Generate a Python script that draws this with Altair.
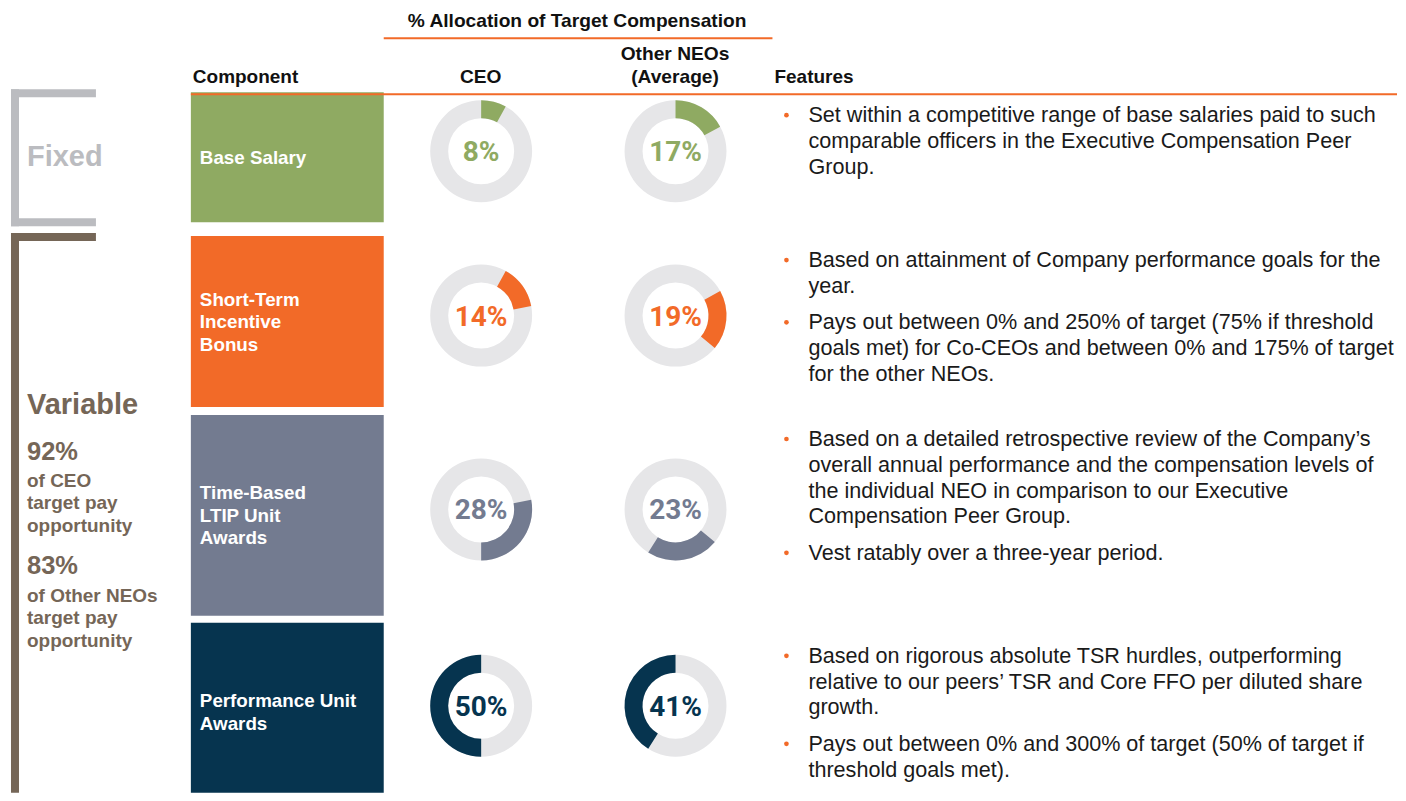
import altair as alt
import pandas as pd

# ---------------- data ----------------
components = ["Base Salary", "Short-Term Incentive Bonus",
              "Time-Based LTIP Unit Awards", "Performance Unit Awards"]
component_lines = [["Base Salary"],
                   ["Short-Term", "Incentive", "Bonus"],
                   ["Time-Based", "LTIP Unit", "Awards"],
                   ["Performance Unit", "Awards"]]
groups = ["CEO", "Other NEOs (Average)"]
group_lines = [["CEO"], ["Other NEOs", "(Average)"]]
ceo_pct = [8, 14, 28, 50]
neo_pct = [17, 19, 23, 41]
title_text = "% Allocation of Target Compensation"
header_component = "Component"
header_features = "Features"
fixed_label = "Fixed"
variable_label = "Variable"
variable_ceo_pct = 92
variable_ceo_lines = ["of CEO", "target pay", "opportunity"]
variable_neo_pct = 83
variable_neo_lines = ["of Other NEOs", "target pay", "opportunity"]
features = [
    [["Set within a competitive range of base salaries paid to such",
      "comparable officers in the Executive Compensation Peer",
      "Group."]],
    [["Based on attainment of Company performance goals for the",
      "year."],
     ["Pays out between 0% and 250% of target (75% if threshold",
      "goals met) for Co-CEOs and between 0% and 175% of target",
      "for the other NEOs."]],
    [["Based on a detailed retrospective review of the Company\u2019s",
      "overall annual performance and the compensation levels of",
      "the individual NEO in comparison to our Executive",
      "Compensation Peer Group."],
     ["Vest ratably over a three-year period."]],
    [["Based on rigorous absolute TSR hurdles, outperforming",
      "relative to our peers\u2019 TSR and Core FFO per diluted share",
      "growth."],
     ["Pays out between 0% and 300% of target (50% of target if",
      "threshold goals met)."]],
]

# ---------------- layout & style ----------------
W, H, OFF = 1390, 785, 8
row_top = [92, 236, 415, 623]
row_bot = [222, 407, 616, 801]
col_cx = [481.5, 676]
comp_x0, comp_x1 = 191, 384
feat_first = [122, 267, 446, 663]
FEAT_LH, FEAT_PG = 25.8, 36.5
LBL_LH = 22.5

ORANGE = "#F26A28"
palette = {
    components[0]: "#8FAA62",
    components[1]: "#F26A28",
    components[2]: "#737B90",
    components[3]: "#06344F",
    "remainder": "#E6E6E8",
    "fixed": "#BBBCC0",
    "variable": "#756657",
}
color_scale = alt.Scale(domain=list(palette.keys()), range=list(palette.values()))
ARIAL = "Liberation Sans, Arial, sans-serif"
NARROW = "'Liberation Sans Narrow', 'Arial Narrow', 'Liberation Sans', sans-serif"
DARK = "#111111"

xs = alt.Scale(domain=[OFF, OFF + W], range=[0, W])
ys = alt.Scale(domain=[OFF, OFF + H], range=[0, H])
X = alt.X("x:Q", scale=xs, axis=None)
Y = alt.Y("y:Q", scale=ys, axis=None)
COL = alt.Color("part:N", scale=color_scale, legend=None)


def clipy(v):
    return min(v, OFF + H)


# ---------------- rectangles ----------------
rects = []
for i, c in enumerate(components):
    rects.append(dict(x=comp_x0, x2=comp_x1, y=row_top[i], y2=clipy(row_bot[i]), part=c))
# brackets
rects += [
    dict(x=11, x2=19, y=89, y2=226, part="fixed"),
    dict(x=11, x2=96, y=89, y2=97, part="fixed"),
    dict(x=11, x2=96, y=218, y2=226, part="fixed"),
    dict(x=11, x2=19, y=233, y2=clipy(801), part="variable"),
    dict(x=11, x2=96, y=233, y2=241, part="variable"),
]
rect_layer = alt.Chart(pd.DataFrame(rects)).mark_rect().encode(
    x=X, x2="x2:Q", y=Y, y2="y2:Q", color=COL)

# ---------------- orange rules ----------------
rules = pd.DataFrame([dict(x=384, x2=773, y=38), dict(x=191, x2=OFF + W, y=94)])
rule_layer = alt.Chart(rules).mark_rule(color=ORANGE, strokeWidth=2).encode(
    x=X, x2="x2:Q", y=Y)

# ---------------- donuts (cumulative segments) ----------------
arcs, pct_labels = [], []
for i, c in enumerate(components):
    cy = (row_top[i] + row_bot[i]) / 2 - 6
    for j, vals in enumerate([ceo_pct, neo_pct]):
        v = vals[i]
        s = sum(vals[:i])
        arcs.append(dict(x=col_cx[j], y=cy, start=0, end=100, part="remainder"))
        arcs.append(dict(x=col_cx[j], y=cy, start=s, end=s + v, part=c))
        pct_labels.append(dict(x=col_cx[j], y=cy + 10, text=f"{v}%", part=c))
arc_layer = alt.Chart(pd.DataFrame(arcs)).mark_arc(innerRadius=33, outerRadius=51).encode(
    x=X, y=Y,
    theta=alt.Theta("start:Q", scale=alt.Scale(domain=[0, 100], range=[0, 6.283185307]), stack=None),
    theta2="end:Q",
    color=COL,
)
pct_layer = alt.Chart(pd.DataFrame(pct_labels)).mark_text(
    font="Roboto", fontSize=28, fontWeight="bold", align="center", baseline="alphabetic"
).encode(x=X, y=Y, text="text:N", color=COL)

# ---------------- component labels ----------------
lbl = []
for i, lines in enumerate(component_lines):
    center = (row_top[i] + row_bot[i]) / 2
    first = center - (len(lines) - 1) * LBL_LH / 2 + 6.5
    for k, t in enumerate(lines):
        lbl.append(dict(x=200, y=first + k * LBL_LH, text=t))
lbl_layer = alt.Chart(pd.DataFrame(lbl)).mark_text(
    font=ARIAL, fontSize=18.8, fontWeight="bold", color="white", align="left", baseline="alphabetic"
).encode(x=X, y=Y, text="text:N")

# ---------------- headers ----------------
hdr_center = [dict(x=577.5, y=27, text=title_text)]
for j, lines in enumerate(group_lines):
    for k, t in enumerate(reversed(lines)):
        hdr_center.append(dict(x=col_cx[j] - 0.5, y=83 - k * 23, text=t))
hdr_c_layer = alt.Chart(pd.DataFrame(hdr_center)).mark_text(
    font=ARIAL, fontSize=19.2, fontWeight="bold", color=DARK, align="center", baseline="alphabetic"
).encode(x=X, y=Y, text="text:N")
hdr_left = pd.DataFrame([dict(x=193, y=83, text=header_component),
                         dict(x=775, y=83, text=header_features)])
hdr_l_layer = alt.Chart(hdr_left).mark_text(
    font=ARIAL, fontSize=19, fontWeight="bold", color=DARK, align="left", baseline="alphabetic"
).encode(x=X, y=Y, text="text:N")

# ---------------- left side labels ----------------
big = pd.DataFrame([dict(x=27, y=166, text=fixed_label, part="fixed"),
                    dict(x=27, y=414, text=variable_label, part="variable")])
big_layer = alt.Chart(big).mark_text(
    font=ARIAL, fontSize=29, fontWeight="bold", align="left", baseline="alphabetic"
).encode(x=X, y=Y, text="text:N", color=COL)

pcts = pd.DataFrame([dict(x=27, y=460, text=f"{variable_ceo_pct}%", part="variable"),
                     dict(x=27, y=574, text=f"{variable_neo_pct}%", part="variable")])
pcts_layer = alt.Chart(pcts).mark_text(
    font=ARIAL, fontSize=25.5, fontWeight="bold", align="left", baseline="alphabetic"
).encode(x=X, y=Y, text="text:N", color=COL)

small = []
for first, lines in [(487, variable_ceo_lines), (602, variable_neo_lines)]:
    for k, t in enumerate(lines):
        small.append(dict(x=27, y=first + k * 22.5, text=t, part="variable"))
small_layer = alt.Chart(pd.DataFrame(small)).mark_text(
    font=ARIAL, fontSize=19, fontWeight="bold", align="left", baseline="alphabetic"
).encode(x=X, y=Y, text="text:N", color=COL)

# ---------------- features ----------------
feat_rows, bullets = [], []
for i, paras in enumerate(features):
    y = feat_first[i]
    for p in paras:
        bullets.append(dict(x=787, y=y - 7))
        for t in p:
            feat_rows.append(dict(x=809, y=y, text=t))
            y += FEAT_LH
        y += FEAT_PG - FEAT_LH
feat_layer = alt.Chart(pd.DataFrame(feat_rows)).mark_text(
    font=NARROW, fontSize=21.6, color="#1A1A1A", align="left", baseline="alphabetic"
).encode(x=X, y=Y, text="text:N")
bullet_layer = alt.Chart(pd.DataFrame(bullets)).mark_circle(
    color=ORANGE, opacity=1, size=22
).encode(x=X, y=Y)

chart = alt.layer(
    rect_layer, rule_layer, arc_layer, pct_layer, lbl_layer,
    hdr_c_layer, hdr_l_layer, big_layer, pcts_layer, small_layer,
    feat_layer, bullet_layer,
).properties(width=W, height=H, padding=0).configure_view(stroke=None)

chart.save("out.html", embed_options={"renderer": "svg", "actions": False})
